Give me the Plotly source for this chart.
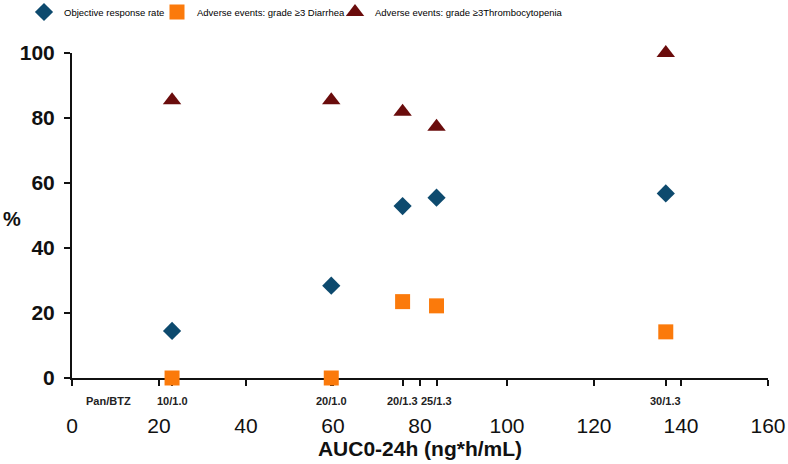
import plotly.graph_objects as go

# ---- data ----
auc = [23, 59.6, 76, 83.8, 136.5]
dose_labels = ["10/1.0", "20/1.0", "20/1.3", "25/1.3", "30/1.3"]
orr = [14.5, 28.4, 52.9, 55.5, 56.8]
diarrhea = [0, 0, 23.5, 22.2, 14.2]
thrombo = [85.5, 85.5, 81.9, 77.3, 100]
x_ticks = [0, 20, 40, 60, 80, 100, 120, 140, 160]
y_ticks = [0, 20, 40, 60, 80, 100]
series_names = ["Objective response rate",
                "Adverse events: grade \u22653 Diarrhea",
                "Adverse events: grade \u22653Thrombocytopenia"]
dose_header = "Pan/BTZ"
dose_header_x = 8.5

fig = go.Figure()
fig.add_trace(go.Scatter(x=auc, y=orr, mode="markers", name=series_names[0], legend="legend",
                         marker=dict(symbol="diamond", size=14, color="#0d4a6e"),
                         cliponaxis=False))
fig.add_trace(go.Scatter(x=auc, y=diarrhea, mode="markers", name=series_names[1], legend="legend2",
                         marker=dict(symbol="square", size=15, color="#fb7a0b"),
                         cliponaxis=False))
fig.add_trace(go.Scatter(x=auc, y=thrombo, mode="markers", name=series_names[2], legend="legend3",
                         marker=dict(symbol="triangle-up", size=16, color="#6a0c0c"),
                         cliponaxis=False))

small_font = dict(size=11, color="#222", family="Liberation Sans, Arial")
annotations = []
for xv, lab in zip(auc, dose_labels):
    annotations.append(dict(x=xv, y=0, xref="x", yref="y", text="<b>" + lab + "</b>",
                            showarrow=False, yshift=-23, font=small_font))
annotations.append(dict(x=dose_header_x, y=0, xref="x", yref="y", text="<b>" + dose_header + "</b>",
                        showarrow=False, yshift=-23, font=small_font))
annotations.append(dict(x=-0.086, y=0.49, xref="x domain", yref="y domain", text="<b>%</b>",
                        xanchor="center", yanchor="middle", showarrow=False,
                        font=dict(size=20, color="#111", family="Liberation Sans, Arial")))


def leg(xpx):
    return dict(orientation="h", x=xpx / 788, xref="container", y=1 - 12 / 464, yref="container",
                yanchor="middle", xanchor="left",
                font=dict(size=9.5, family="Liberation Sans, Arial", color="#000"),
                bgcolor="rgba(0,0,0,0)", itemwidth=30)


fig.update_layout(
    width=788, height=464,
    margin=dict(l=72, r=20, t=53, b=86, autoexpand=False),
    paper_bgcolor="white", plot_bgcolor="white",
    font=dict(family="Liberation Sans, Arial", color="#111"),
    showlegend=True,
    legend=leg(24), legend2=leg(157), legend3=leg(335),
    annotations=annotations,
    xaxis=dict(range=[0, 160], tickvals=x_ticks, showgrid=False, zeroline=False,
               showline=True, linecolor="#111", linewidth=2, ticks="outside", ticklen=6,
               tickwidth=2, tickcolor="#111", layer="below traces",
               tickfont=dict(size=21, color="#111"), ticklabelstandoff=22,
               minor=dict(tickvals=auc, ticks="outside", ticklen=6, tickwidth=2, tickcolor="#111"),
               title=dict(text="<b>AUC0-24h (ng*h/mL)</b>", font=dict(size=21, color="#111"), standoff=4)),
    yaxis=dict(range=[0, 100], tickvals=y_ticks, ticktext=["<b>%d</b>" % v for v in y_ticks],
               showgrid=False, zeroline=False,
               showline=True, linecolor="#111", linewidth=2, ticks="outside", ticklen=6,
               tickwidth=2, tickcolor="#111", layer="below traces",
               tickfont=dict(size=21, color="#111"), ticklabelstandoff=5),
)

fig.write_html("out.html", config={"displayModeBar": False},
               post_script="document.body.style.margin='0';")
